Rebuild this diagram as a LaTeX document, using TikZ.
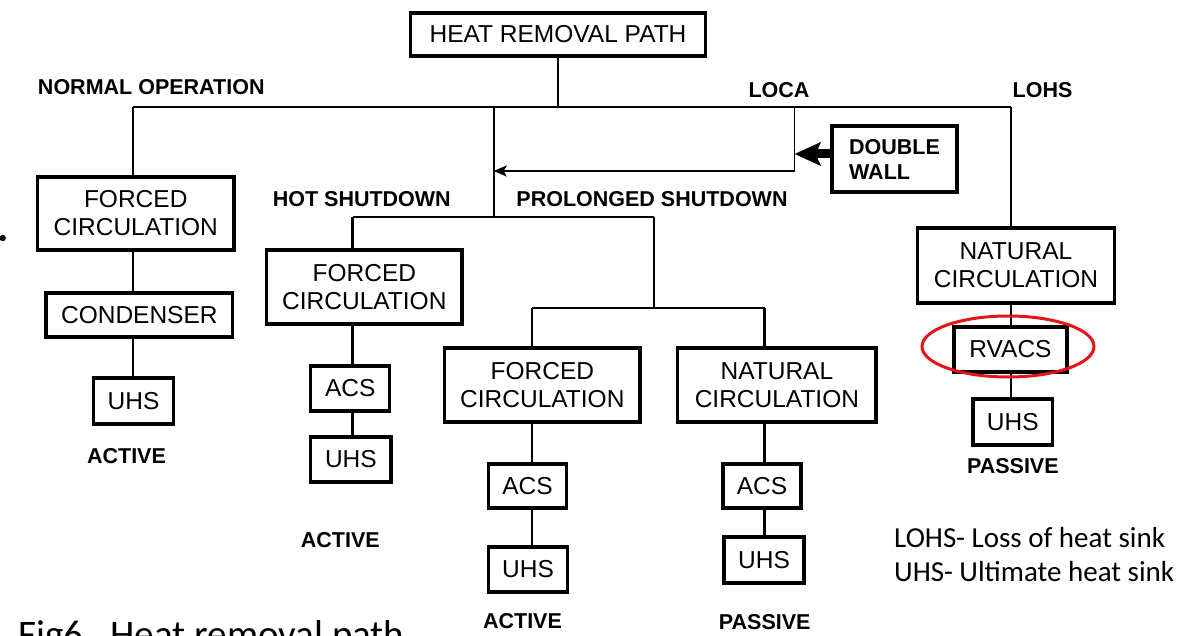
\documentclass[tikz,border=0pt]{standalone}
\usepackage{fontspec}
\setmainfont{Liberation Sans}
\newfontfamily\calibrifont{Carlito}
\usetikzlibrary{arrows.meta}
\definecolor{hlred}{RGB}{228,20,24}
\begin{document}
\begin{tikzpicture}[x=1pt,y=-1pt,
  box/.style={draw, line width=3.2pt, inner sep=0pt, align=center, font=\fontsize{24.5}{28}\selectfont},
  lab/.style={font=\bfseries\fontsize{21.5}{24}\selectfont, inner sep=0pt, anchor=base},
  conn/.style={line width=2.2pt},
  legend/.style={font=\calibrifont\fontsize{29}{33}\selectfont, inner sep=0pt, anchor=base west}]
\useasboundingbox[fill=white] (0,0) rectangle (1178,636);

% boxes
\node[box, minimum width=294.5pt, minimum height=43pt] (hrp) at (558,34.5) {HEAT REMOVAL PATH};
\node[box, minimum width=196.5pt, minimum height=73pt] (fc1) at (135.75,213.5) {FORCED\\CIRCULATION};
\node[box, minimum width=186.7pt, minimum height=44pt] (cond) at (139.35,315) {CONDENSER};
\node[box, minimum width=79.6pt, minimum height=46pt] (uhsA) at (133.6,401) {UHS};
\node[box, minimum width=195.3pt, minimum height=74pt] (fc2) at (364.35,287) {FORCED\\CIRCULATION};
\node[box, minimum width=78.8pt, minimum height=45pt] (acsB) at (350.2,388.5) {ACS};
\node[box, minimum width=80.2pt, minimum height=45pt] (uhsB) at (350.9,459.5) {UHS};
\node[box, minimum width=195.3pt, minimum height=74pt] (fc3) at (542.35,385) {FORCED\\CIRCULATION};
\node[box, minimum width=198.2pt, minimum height=74pt] (nc3) at (776.9,385) {NATURAL\\CIRCULATION};
\node[box, minimum width=77.7pt, minimum height=44pt] (acsC) at (527.55,486) {ACS};
\node[box, minimum width=78.8pt, minimum height=45pt] (uhsC) at (528.1,569.5) {UHS};
\node[box, minimum width=78pt, minimum height=44pt] (acsD) at (762,486) {ACS};
\node[box, minimum width=80pt, minimum height=46pt] (uhsD) at (764,560) {UHS};
\node[box, minimum width=125pt, minimum height=66pt, align=left, font=\bfseries\fontsize{21.5}{25}\selectfont] (dw) at (894.5,159) {DOUBLE\\WALL};
\node[box, minimum width=197pt, minimum height=75pt] (nc4) at (1016,265.5) {NATURAL\\CIRCULATION};
\node[box, minimum width=113pt, minimum height=45pt] (rvacs) at (1010.5,349.5) {RVACS};
\node[box, minimum width=79.6pt, minimum height=46pt] (uhsE) at (1012.8,422) {UHS};

% junction coordinates
\coordinate (jL) at (133,107);
\coordinate (jR) at (1011,107);
\coordinate (jS) at (493.7,107);
\coordinate (jS2) at (493.7,217);
\coordinate (hotC) at (352.5,217);
\coordinate (prolC) at (653.6,217);
\coordinate (p2) at (653.6,308);
\coordinate (pL) at (532,308);
\coordinate (pR) at (764.5,308);
\coordinate (locaT) at (794.5,107);
\coordinate (locaB) at (794.5,171);

% connectors
\draw[conn] (hrp.south) -- (hrp.south |- jL);
\draw[conn] (jL) -- (jR);
\draw[conn] (jL) -- (fc1.north -| jL);
\draw[conn] (fc1.south -| jL) -- (cond.north -| jL);
\draw[conn] (cond.south -| jL) -- (uhsA.north -| jL);
\draw[conn] (jS) -- (jS2);
\draw[conn] (hotC) -- (prolC);
\draw[conn] (hotC) -- (fc2.north -| hotC);
\draw[conn] (fc2.south -| hotC) -- (acsB.north -| hotC);
\draw[conn] (acsB.south -| hotC) -- (uhsB.north -| hotC);
\draw[conn] (prolC) -- (p2);
\draw[conn] (pL) -- (pR);
\draw[conn] (pL) -- (fc3.north -| pL);
\draw[conn] (fc3.south -| pL) -- (acsC.north -| pL);
\draw[conn] (acsC.south -| pL) -- (uhsC.north -| pL);
\draw[conn] (pR) -- (nc3.north -| pR);
\draw[conn] (nc3.south -| pR) -- (acsD.north -| pR);
\draw[conn] (acsD.south -| pR) -- (uhsD.north -| pR);
\draw[conn] (jR) -- (nc4.north -| jR);
\draw[conn] (nc4.south -| jR) -- (rvacs.north -| jR);
\draw[conn] (rvacs.south -| jR) -- (uhsE.north -| jR);
\draw[line width=1.8pt, -{Stealth[length=13pt,width=11pt,inset=3pt]}] (locaT) -- (locaB) -- (locaB -| jS);
\draw[line width=9pt, -{Stealth[length=26pt,width=23pt,inset=5pt]}] ([yshift=5pt]dw.west) -- ([yshift=5pt]dw.west -| locaT);

% highlight
\draw[hlred, line width=3pt] (1008,346.5) ellipse [x radius=86pt, y radius=30.5pt];

% labels
\node[lab] (lnorm) at (151.25,95) {NORMAL OPERATION};
\node[lab] (lloca) at (779,98) {LOCA};
\node[lab] (llohs) at (1042.5,98) {LOHS};
\node[lab] (lhot) at (361.8,207) {HOT SHUTDOWN};
\node[lab] (lprol) at (652,207) {PROLONGED SHUTDOWN};
\node[lab] (act1) at (126.5,463) {ACTIVE};
\node[lab] (act2) at (340.3,547) {ACTIVE};
\node[lab] (act3) at (522.5,628) {ACTIVE};
\node[lab] (pas4) at (764.75,629) {PASSIVE};
\node[lab] (pas5) at (1012.85,473) {PASSIVE};

% legend and caption
\node[legend] (leg1) at (894,547) {LOHS- Loss of heat sink};
\node[legend] (leg2) at (894,581) {UHS- Ultimate heat sink};
\node[font=\calibrifont\fontsize{39}{44}\selectfont, inner sep=0pt, anchor=base west] (cap) at (18,647) {Fig6.\ \ Heat removal path};
\fill (2.7,238) circle (3.2pt);
\end{tikzpicture}
\end{document}
